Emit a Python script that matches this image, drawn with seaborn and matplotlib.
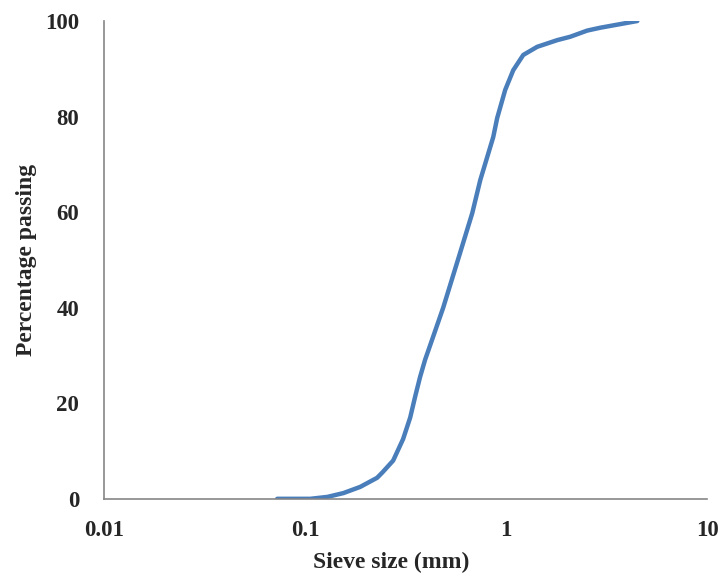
#!/usr/bin/env python3
"""Particle size distribution curve (percentage passing vs sieve size)."""

import matplotlib
matplotlib.use("Agg")
import matplotlib.pyplot as plt
import pandas as pd
import seaborn as sns

# values
sieve_mm = [0.0726, 0.106, 0.129, 0.155, 0.188, 0.228, 0.242, 0.274, 0.307,
            0.333, 0.353, 0.373, 0.395, 0.428, 0.486, 0.590, 0.678, 0.743,
            0.862, 0.902, 0.989, 1.084, 1.216, 1.426, 1.794, 2.08, 2.53,
            2.94, 4.49]
passing = [0.0, 0.0, 0.4, 1.2, 2.5, 4.4, 5.5, 8.0, 12.5,
           17.0, 21.5, 25.5, 29.1, 33.3, 40.0, 51.5, 59.8, 66.7,
           75.7, 79.7, 85.6, 89.7, 92.9, 94.6, 96.0, 96.7, 98.0,
           98.6, 100.0]
x_ticks = [0.01, 0.1, 1, 10]
x_tick_labels = ["0.01", "0.1", "1", "10"]
y_ticks = [0, 20, 40, 60, 80, 100]

LINE_COLOR = "#4a7ebb"
SPINE_COLOR = "#868686"


def main() -> None:
    df = pd.DataFrame({"sieve": sieve_mm, "passing": passing})

    sns.set_theme(style="white")
    plt.rcParams["font.family"] = ["Liberation Serif", "DejaVu Serif"]
    plt.rcParams["font.weight"] = "bold"

    fig = plt.figure(figsize=(7.18, 5.76), dpi=100)
    ax = fig.add_axes([0.145, 0.134, 0.840, 0.8295])
    sns.lineplot(data=df, x="sieve", y="passing", color=LINE_COLOR,
                 linewidth=3.2, sort=False, estimator=None, ax=ax)
    for line in ax.get_lines():
        line.set_solid_joinstyle("round")
        line.set_solid_capstyle("round")

    ax.set_xscale("log")
    ax.set_xlim(0.01, 10)
    ax.set_ylim(0, 100)
    ax.set_xticks(x_ticks)
    ax.set_xticklabels(x_tick_labels)
    ax.set_yticks(y_ticks)
    ax.minorticks_off()
    ax.tick_params(axis="both", length=0, labelsize=16.5)
    ax.tick_params(axis="x", pad=15)
    ax.tick_params(axis="y", pad=18)
    for lab in ax.get_xticklabels() + ax.get_yticklabels():
        lab.set_fontweight("bold")

    for side in ("top", "right"):
        ax.spines[side].set_visible(False)
    for side in ("left", "bottom"):
        ax.spines[side].set_color(SPINE_COLOR)
        ax.spines[side].set_linewidth(1.2)

    ax.set_xlabel("Sieve size (mm)", fontsize=17, fontweight="bold")
    ax.xaxis.set_label_coords(0.476, -0.112)
    ax.set_ylabel("Percentage passing", fontsize=17, fontweight="bold", labelpad=6)

    fig.savefig("out.png", dpi=100)


if __name__ == "__main__":
    main()
